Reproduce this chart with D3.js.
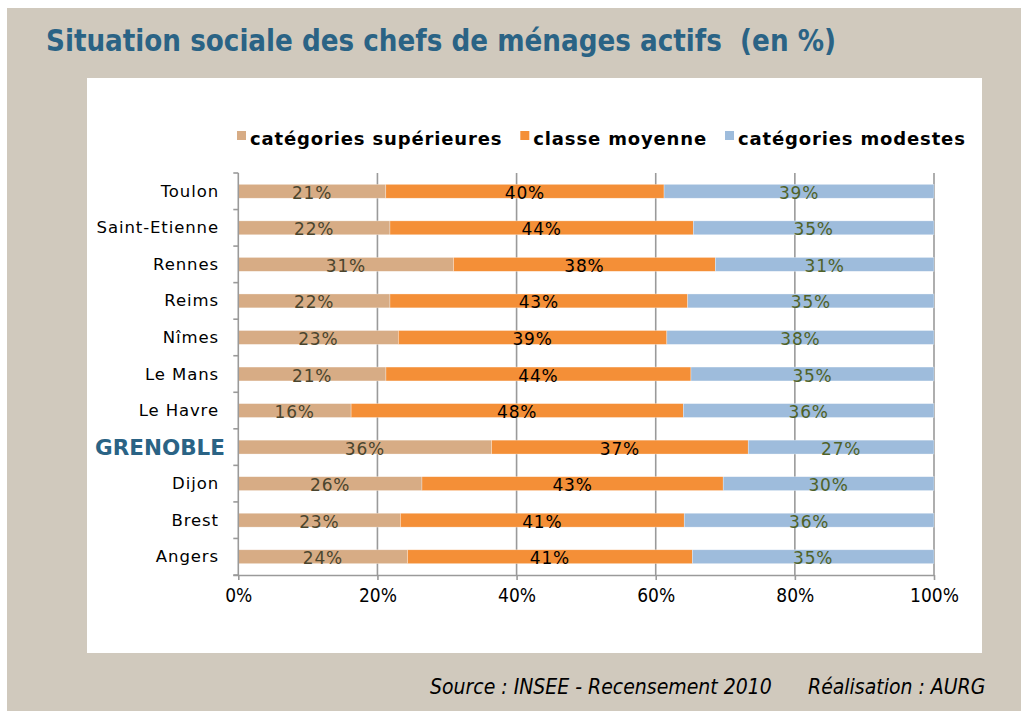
<!DOCTYPE html>
<html><head><meta charset="utf-8">
<script src="https://cdn.jsdelivr.net/npm/d3@7"></script>
<style>body{margin:0;background:#fff;overflow:hidden}</style>
</head><body>
<script>
// ---- data ----
const cities = ["Toulon","Saint-Etienne","Rennes","Reims","Nîmes","Le Mans","Le Havre","GRENOBLE","Dijon","Brest","Angers"];
const superieures = [21.2,21.8,30.9,21.8,23.0,21.2,16.2,36.4,26.4,23.3,24.3];
const moyenne     = [40.0,43.6,37.6,42.8,38.6,43.8,47.7,36.9,43.3,40.8,40.9];
const modestes    = [38.8,34.6,31.4,35.4,38.4,34.9,36.0,26.7,30.3,35.9,34.7];
const seriesKeys  = ["sup","moy","mod"];
const seriesNames = ["catégories supérieures","classe moyenne","catégories modestes"];
const xTicks = [0,0.2,0.4,0.6,0.8,1];
const titleText = "Situation sociale des chefs de ménages actifs\u00a0\u00a0(en %)";
const sourceText = "Source : INSEE - Recensement 2010";
const authorText = "Réalisation : AURG";

// ---- styles ----
const colors = {sup:"#d7ac85", moy:"#f48f37", mod:"#9ebcdc"};
const labelColors = {sup:"#4a452e", moy:"#000000", mod:"#4f6228"};
const highlight = "GRENOBLE";

const W = 1021, H = 711;
const svg = d3.select("body").append("svg").attr("width", W).attr("height", H);

svg.append("rect").attr("x",7).attr("y",8).attr("width",W-7).attr("height",H-8).attr("fill","#d0c9bd");
svg.append("rect").attr("x",87).attr("y",78).attr("width",895).attr("height",575).attr("fill","#ffffff");

// title
svg.append("text").attr("x",46).attr("y",51)
  .attr("font-family","'DejaVu Sans Condensed','DejaVu Sans',sans-serif")
  .attr("font-weight","bold").attr("font-size",31).attr("fill","#2a6385")
  .attr("textLength",790).attr("lengthAdjust","spacingAndGlyphs")
  .text(titleText);

const table = cities.map((c,i)=>({city:c, sup:superieures[i], moy:moyenne[i], mod:modestes[i]}));
const stacked = d3.stack().keys(seriesKeys).offset(d3.stackOffsetExpand)(table);

const x = d3.scaleLinear().domain([0,1]).range([238.3,934]);
const y = d3.scaleBand().domain(cities).range([173,575]).paddingInner(0.62).paddingOuter(0.31);

const g = svg.append("g");
const gridColor = "#9a9a9a";

// gridlines
g.selectAll("line.grid").data(xTicks.slice(1)).join("line")
  .attr("x1",d=>x(d)).attr("x2",d=>x(d)).attr("y1",173).attr("y2",575)
  .attr("stroke",gridColor).attr("stroke-width",1.6);

// bars
const layers = g.selectAll("g.layer").data(stacked).join("g").attr("fill",d=>colors[d.key]);
layers.selectAll("rect").data(d=>d).join("rect")
  .attr("x",d=>x(d[0])).attr("width",d=>x(d[1])-x(d[0]))
  .attr("y",d=>y(d.data.city)).attr("height",y.bandwidth())
  .attr("stroke","#ffffff").attr("stroke-opacity",0.5).attr("stroke-width",0.6);

// labels
stacked.forEach(layer=>{
  g.append("g").selectAll("text").data(layer).join("text")
    .attr("x",d=>(x(d[0])+x(d[1]))/2)
    .attr("y",d=>y(d.data.city)+y.bandwidth()/2+1.5)
    .attr("text-anchor","middle").attr("dominant-baseline","central")
    .attr("font-family","'DejaVu Sans',sans-serif").attr("font-size",17)
    .attr("letter-spacing",0.8)
    .attr("fill",labelColors[layer.key])
    .text(d=>Math.round(d.data[layer.key])+"%");
});

// y axis line & ticks
g.append("line").attr("x1",x(0)).attr("x2",x(0)).attr("y1",173).attr("y2",575).attr("stroke",gridColor).attr("stroke-width",1.6);
const bounds = cities.map(c=>y(c)-y.step()*0.31).concat([575]);
g.selectAll("line.yt").data(bounds).join("line")
  .attr("x1",x(0)-5).attr("x2",x(0)).attr("y1",d=>d).attr("y2",d=>d)
  .attr("stroke",gridColor).attr("stroke-width",1.6);

// category labels
g.selectAll("text.cat").data(cities).join("text")
  .attr("x",d=>d===highlight?225:219)
  .attr("y",d=>y(d)+y.bandwidth()/2)
  .attr("text-anchor","end").attr("dominant-baseline","central")
  .attr("font-family","'DejaVu Sans',sans-serif")
  .attr("font-size",d=>d===highlight?21.5:16.5)
  .attr("font-weight",d=>d===highlight?"bold":"normal")
  .attr("letter-spacing",d=>d===highlight?0:0.9)
  .attr("fill",d=>d===highlight?"#2a6385":"#000")
  .text(d=>d);

// x axis
const xAxis = d3.axisBottom(x).tickValues(xTicks).tickFormat(d3.format(".0%")).tickSize(5).tickPadding(9);
const ax = svg.append("g").attr("transform","translate(0,575)").call(xAxis);
ax.select(".domain").attr("stroke",gridColor).attr("stroke-width",1.6).attr("d",`M${x(0)-5},0.5H${x(1)}`);
ax.selectAll(".tick line").attr("stroke",gridColor).attr("stroke-width",1.6);
ax.selectAll(".tick text").attr("font-family","'DejaVu Sans Condensed','DejaVu Sans',sans-serif").attr("font-size",19).attr("fill","#000");

// legend
const leg = svg.append("g");
let lx = 237;
seriesKeys.forEach((k,i)=>{
  leg.append("rect").attr("x",lx).attr("y",131).attr("width",9).attr("height",9).attr("fill",colors[k]);
  const t = leg.append("text").attr("x",lx+13).attr("y",138).attr("dominant-baseline","central")
    .attr("font-family","'DejaVu Sans',sans-serif").attr("font-weight","bold").attr("font-size",18)
    .attr("letter-spacing",0.85)
    .attr("fill","#000").text(seriesNames[i]);
  lx += 13 + t.node().getComputedTextLength() + 18;
});

// footer
const ft = svg.append("g").attr("font-family","'DejaVu Sans Condensed','DejaVu Sans',sans-serif")
  .attr("font-style","italic").attr("font-size",21).attr("fill","#000");
ft.append("text").attr("x",430).attr("y",694).text(sourceText);
ft.append("text").attr("x",808).attr("y",694).text(authorText);
</script>
</body></html>
